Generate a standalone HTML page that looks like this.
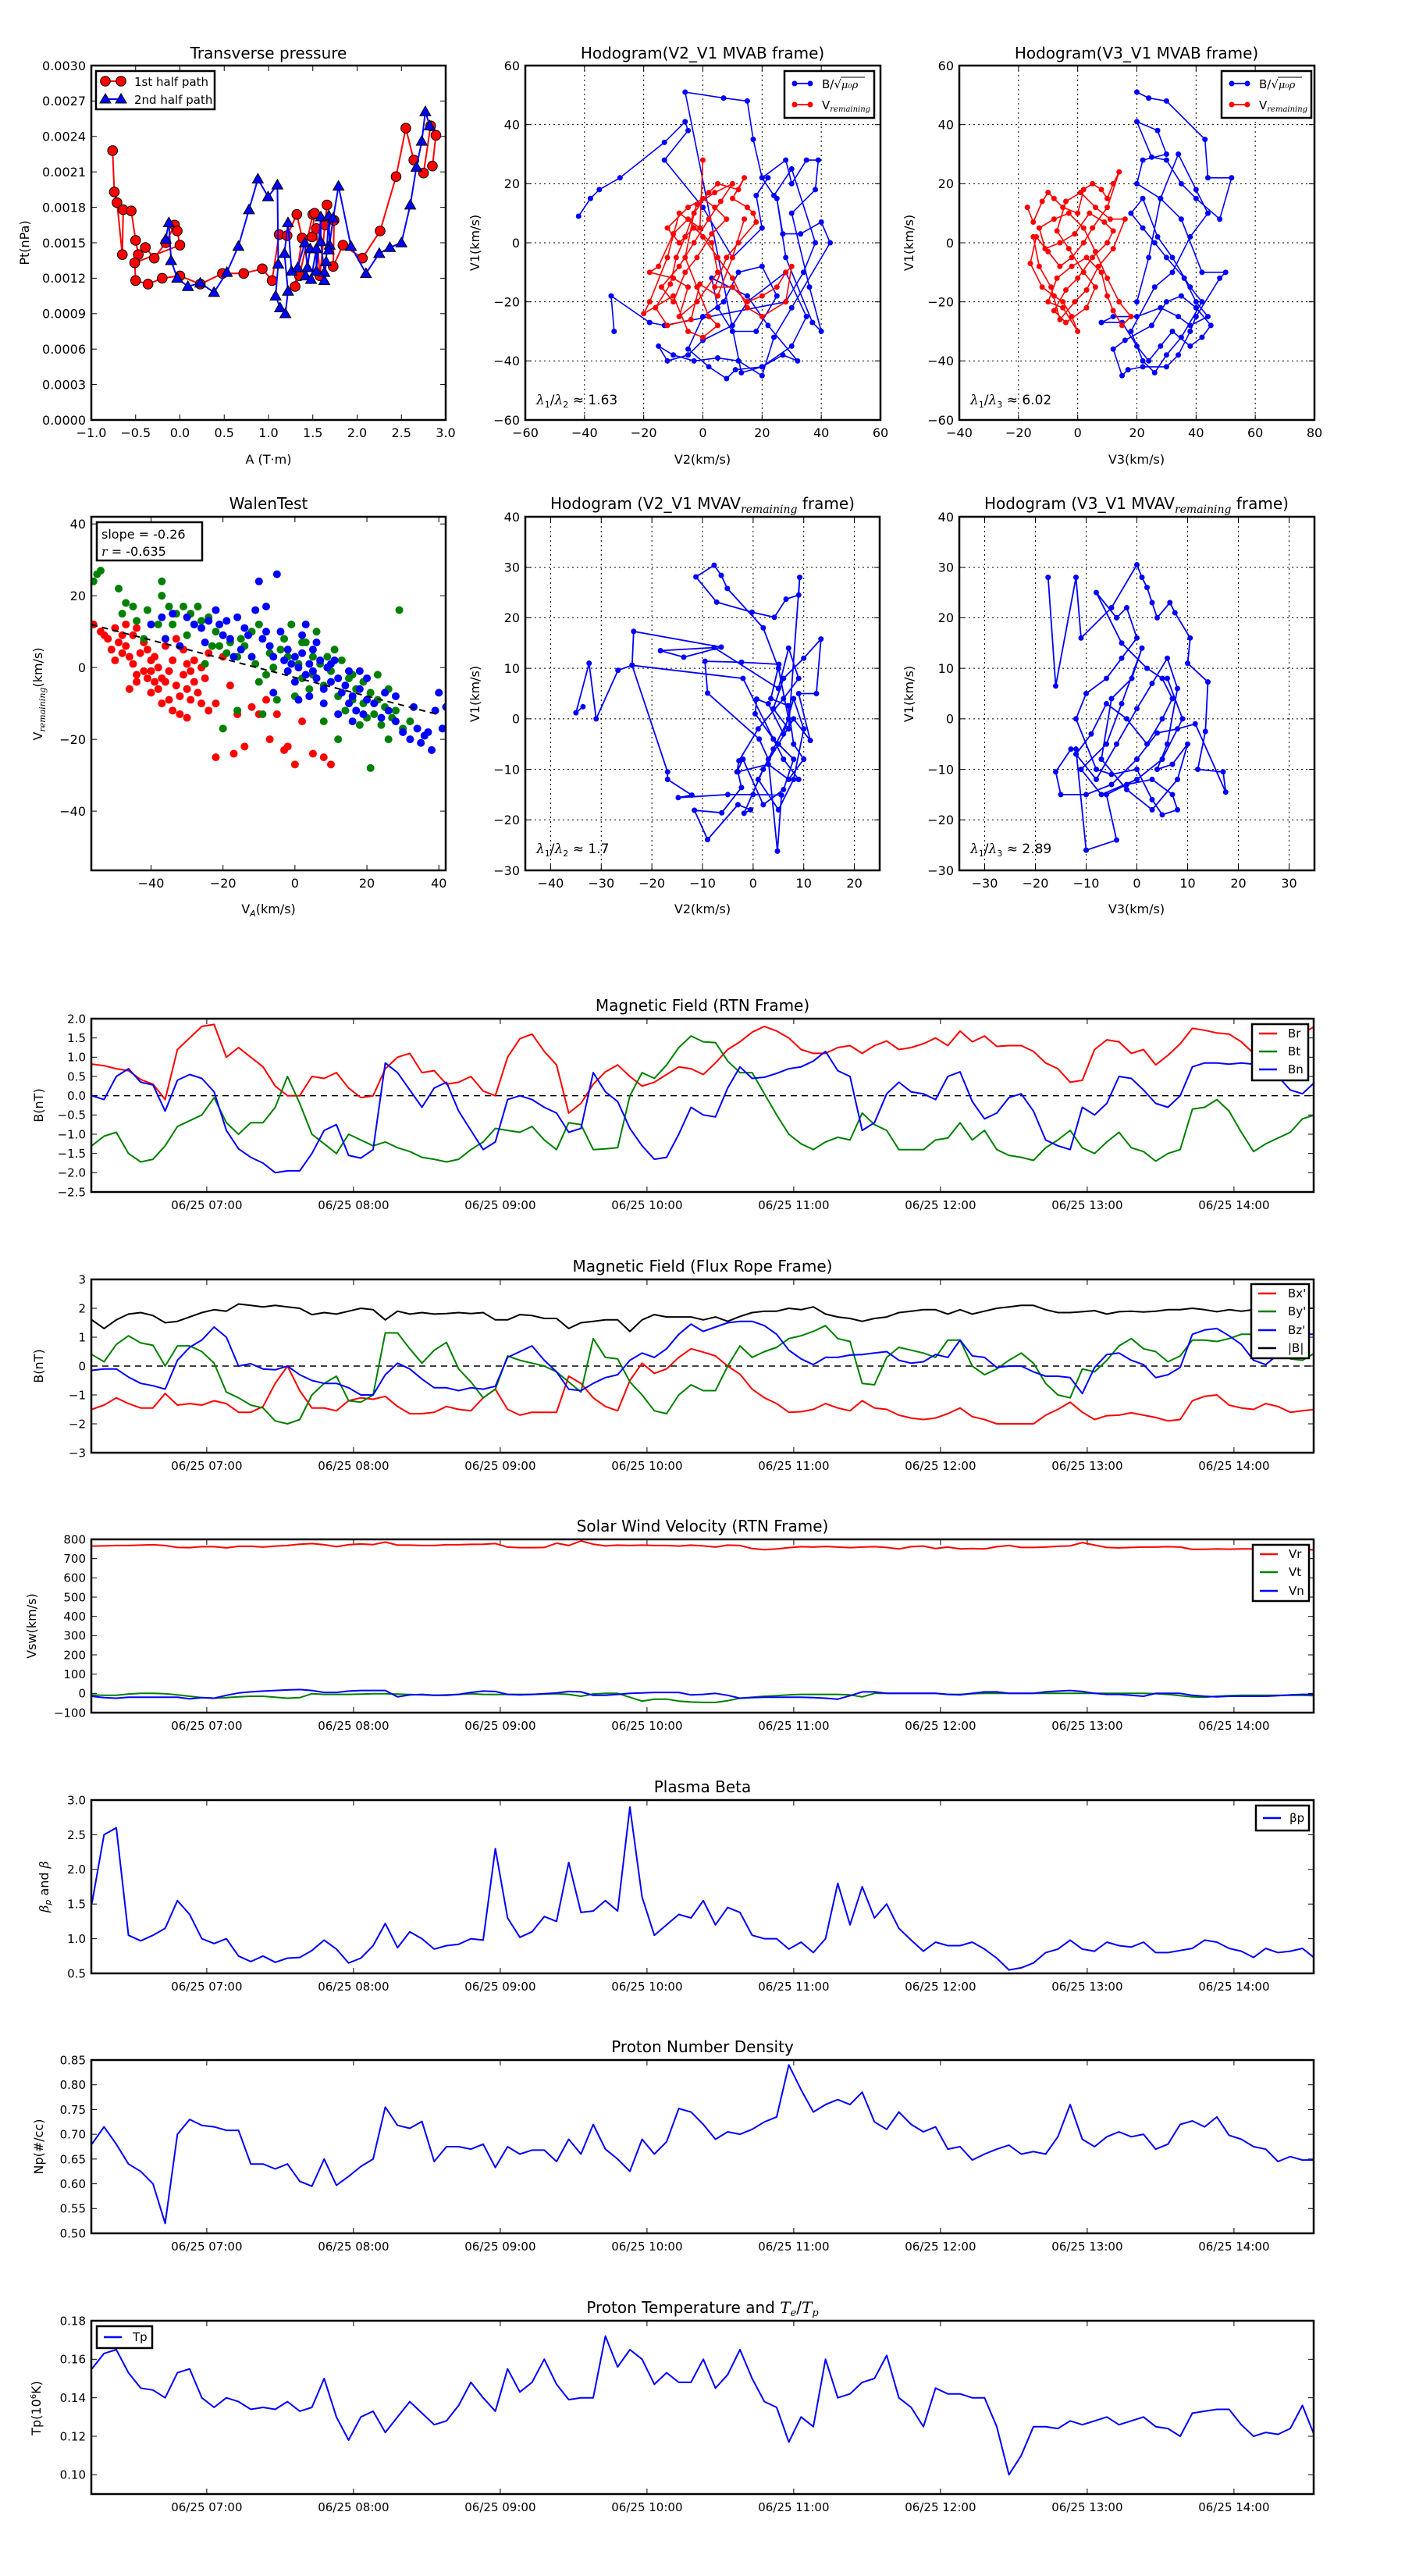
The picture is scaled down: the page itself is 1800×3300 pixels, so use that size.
<!DOCTYPE html>
<html><head><meta charset="utf-8">
<style>
html,body{margin:0;padding:0;background:#fff;}
svg{display:block;font-family:"DejaVu Sans","Liberation Sans",sans-serif;}
</style></head>
<body>
<svg id="fig" xmlns="http://www.w3.org/2000/svg" width="1800" height="3300" viewBox="0 0 1800 3300">
<rect width="1800" height="3300" fill="#fff"/>
<g font-size="20" text-anchor="middle" fill="#000">
<text x="344" y="75">Transverse pressure</text>
<text x="900" y="75">Hodogram(V2_V1 MVAB frame)</text>
<text x="1456" y="75">Hodogram(V3_V1 MVAB frame)</text>
<text x="344" y="652">WalenTest</text>
<text x="900" y="652">Hodogram (V2_V1 MVAV<tspan font-family="DejaVu Serif,serif" font-style="italic" font-size="14" dy="5">remaining</tspan><tspan dy="-5"> frame)</tspan></text>
<text x="1456" y="652">Hodogram (V3_V1 MVAV<tspan font-family="DejaVu Serif,serif" font-style="italic" font-size="14" dy="5">remaining</tspan><tspan dy="-5"> frame)</tspan></text>
<text x="900" y="1295">Magnetic Field (RTN Frame)</text>
<text x="900" y="1629">Magnetic Field (Flux Rope Frame)</text>
<text x="900" y="1962">Solar Wind Velocity (RTN Frame)</text>
<text x="900" y="2296">Plasma Beta</text>
<text x="900" y="2629">Proton Number Density</text>
<text x="900" y="2963">Proton Temperature and <tspan font-family="DejaVu Serif,serif" font-style="italic">T</tspan><tspan font-family="DejaVu Serif,serif" font-style="italic" font-size="13" dy="4">e</tspan><tspan dy="-4">/</tspan><tspan font-family="DejaVu Serif,serif" font-style="italic">T</tspan><tspan font-family="DejaVu Serif,serif" font-style="italic" font-size="13" dy="4">p</tspan></text>
</g>
<g font-size="16" text-anchor="middle" fill="#000">
<text x="344" y="594">A (T·m)</text>
<text x="900" y="594">V2(km/s)</text>
<text x="1456" y="594">V3(km/s)</text>
<text x="344" y="1170">V<tspan font-size="11" dy="4" font-style="italic">A</tspan><tspan dy="-4">(km/s)</tspan></text>
<text x="900" y="1170">V2(km/s)</text>
<text x="1456" y="1170">V3(km/s)</text>
<text transform="translate(37,311) rotate(-90)">Pt(nPa)</text>
<text transform="translate(614,311) rotate(-90)">V1(km/s)</text>
<text transform="translate(1170,311) rotate(-90)">V1(km/s)</text>
<text transform="translate(54,889) rotate(-90)">V<tspan font-size="11" dy="4" font-style="italic" font-family="DejaVu Serif,serif">remaining</tspan><tspan dy="-4">(km/s)</tspan></text>
<text transform="translate(614,889) rotate(-90)">V1(km/s)</text>
<text transform="translate(1170,889) rotate(-90)">V1(km/s)</text>
<text transform="translate(55,1416) rotate(-90)">B(nT)</text>
<text transform="translate(55,1750) rotate(-90)">B(nT)</text>
<text transform="translate(46,2083) rotate(-90)">Vsw(km/s)</text>
<text transform="translate(62,2417) rotate(-90)"><tspan font-family="DejaVu Serif,serif" font-style="italic">β</tspan><tspan font-size="11" dy="3" font-style="italic">p</tspan><tspan dy="-3"> and </tspan><tspan font-family="DejaVu Serif,serif" font-style="italic">β</tspan></text>
<text transform="translate(55,2750) rotate(-90)">Np(#/cc)</text>
<text transform="translate(52,3085) rotate(-90)">Tp(10<tspan font-size="10" dy="-6">6</tspan><tspan dy="6">K)</tspan></text>
</g>
</svg>
<script>
// ---------- data: transverse pressure ----------
const ptFirstHalf=[[-0.76,0.00228],[-0.74,0.00193],[-0.71,0.00184],[-0.65,0.00140],[-0.64,0.00178],[-0.55,0.00177],[-0.50,0.00152],[-0.47,0.00140],[-0.39,0.00146],[-0.29,0.00137],[-0.16,0.00150],[-0.06,0.00165],[-0.03,0.00160],[0.0,0.00148],[-0.51,0.00133],[-0.50,0.00118],[-0.36,0.00115],[-0.20,0.00120],[0.0,0.00122],[0.23,0.00115],[0.48,0.00124],[0.72,0.00124],[0.93,0.00128],[1.04,0.00118],[1.12,0.00157],[1.21,0.00156],[1.32,0.00174],[1.38,0.00154],[1.30,0.00113],[1.35,0.00122],[1.50,0.00174],[1.52,0.00175],[1.49,0.00155],[1.54,0.00162],[1.58,0.00122],[1.66,0.00182],[1.64,0.00165],[1.74,0.00169],[1.73,0.00130],[1.84,0.00148],[2.06,0.00137],[2.26,0.00160],[2.44,0.00206],[2.55,0.00247],[2.64,0.00220],[2.75,0.00209],[2.83,0.00249],[2.89,0.00241],[2.85,0.00215]];
const ptSecondHalf=[[-0.16,0.00153],[-0.125,0.00167],[-0.10,0.00135],[-0.03,0.00120],[0.09,0.00113],[0.23,0.00116],[0.385,0.00108],[0.53,0.00125],[0.66,0.00147],[0.78,0.00178],[0.88,0.00204],[0.995,0.00189],[1.10,0.00199],[1.11,0.00132],[1.08,0.00105],[1.13,0.00095],[1.19,0.00090],[1.22,0.00109],[1.18,0.00141],[1.22,0.00167],[1.26,0.00126],[1.33,0.00129],[1.41,0.00150],[1.44,0.00129],[1.47,0.00145],[1.42,0.00122],[1.48,0.00119],[1.54,0.00145],[1.54,0.00126],[1.59,0.00172],[1.59,0.00151],[1.63,0.00125],[1.63,0.00118],[1.65,0.00134],[1.68,0.00173],[1.69,0.00148],[1.68,0.00144],[1.73,0.00171],[1.79,0.00198],[1.93,0.00147],[2.10,0.00124],[2.25,0.00141],[2.37,0.00146],[2.50,0.00150],[2.60,0.00182],[2.67,0.00214],[2.73,0.00236],[2.77,0.00261],[2.82,0.00249]];
const ptXTicks=[-1,-0.5,0,0.5,1,1.5,2,2.5,3];
const ptXLabels=['−1.0','−0.5','0.0','0.5','1.0','1.5','2.0','2.5','3.0'];
const ptYTicks=[0,0.0003,0.0006,0.0009,0.0012,0.0015,0.0018,0.0021,0.0024,0.0027,0.0030];
const ptYLabels=['0.0000','0.0003','0.0006','0.0009','0.0012','0.0015','0.0018','0.0021','0.0024','0.0027','0.0030'];
// ---------- data: MVAB hodograms ----------
const h1Blue=[[-42,9],[-38,15],[-35,18],[-28,22],[-13,34],[-6,41],[-5,38],[-13,28],[0,12],[10,-5],[20,5],[18,16],[22,22],[20,22],[28,28],[30,20],[35,28],[39,28],[38,18],[30,10],[36,-15],[40,-30],[37,-27],[28,-5],[25,15],[27,3],[33,3],[40,7],[43,0],[30,-22],[24,-32],[20,-45],[12,-40],[5,-39],[-3,-40],[-10,-38],[-15,-35],[-12,-40],[-5,-38],[0,-33],[10,-28],[15,-20],[28,-10],[35,-25],[30,-35],[20,-42],[11,-43],[8,-46],[2,-42],[-5,-36],[0,-25],[7,-20],[12,-10],[20,-8],[25,-18],[18,-30],[10,-30],[5,-22],[3,-12],[15,-18],[22,-28],[32,-40],[27,-38],[20,-42],[13,-44],[-6,51],[7,49],[15,48],[17,35],[20,22],[24,16],[30,25],[38,0],[34,-10],[28,-20],[-13,-28],[-18,-27],[-31,-18],[-30,-30]];
const h1Red=[[0,28],[-1,5],[-8,10],[-12,-5],[-18,-20],[-20,-24],[-10,-18],[-5,-30],[0,-32],[5,-28],[2,-25],[-2,-15],[-6,-5],[-3,10],[2,17],[5,20],[12,18],[14,22],[10,15],[15,12],[17,10],[18,7],[12,0],[8,-5],[4,-15],[10,-15],[15,-20],[20,-18],[25,-15],[28,-10],[30,-8],[28,-20],[20,-25],[15,-22],[10,-12],[5,-5],[0,2],[-5,8],[-10,3],[-15,-8],[-18,-10],[-10,-12],[-5,-15],[-8,-25],[-2,-20],[5,-10],[3,0],[-3,5],[-8,0],[-12,5],[-5,12],[0,15],[4,12],[8,8],[3,3],[-2,-5],[-6,-10],[-10,-20],[-14,-15],[-8,-8],[-3,0],[2,8],[6,14],[10,20],[4,17],[-2,13],[-6,2],[-9,-5],[-11,-14],[-16,-22],[-12,-28],[-4,-26],[-1,-14],[5,-18],[10,-5],[14,8]];
const h2Blue=[[20,51],[24,49],[30,48],[43,35],[44,22],[52,22],[48,8],[40,15],[35,20],[30,28],[25,29],[20,41],[27,38],[30,30],[22,28],[20,20],[28,15],[35,8],[42,-10],[50,-10],[48,-12],[40,-25],[38,-30],[34,-38],[30,-42],[22,-42],[17,-43],[15,-45],[12,-36],[16,-33],[25,-28],[30,-20],[35,-18],[40,-22],[45,-28],[42,-32],[38,-35],[32,-30],[28,-35],[24,-40],[20,-35],[15,-27],[8,-27],[12,-25],[20,-25],[28,-22],[34,-25],[38,-28],[44,-25],[40,-20],[36,-12],[30,-5],[26,0],[22,5],[18,10],[22,15],[27,2],[32,-5],[38,-15],[42,-20],[35,-32],[30,-38],[26,-44],[22,-40],[18,-30],[26,-15],[32,-10],[38,2],[44,10],[40,18],[34,30],[28,15],[24,-5],[20,-20]];
const h2Red=[[-17,12],[-15,7],[-12,14],[-10,17],[-8,15],[-5,12],[0,10],[2,18],[5,20],[8,18],[10,15],[12,20],[14,24],[10,12],[5,5],[2,0],[-2,-5],[-6,-8],[-10,-3],[-14,2],[-16,-7],[-12,-15],[-8,-18],[-5,-20],[-2,-25],[0,-30],[-5,-22],[-10,-20],[-7,-12],[-2,-8],[3,-5],[8,-10],[10,-18],[12,-23],[15,-28],[18,-25],[14,-20],[10,-12],[6,-3],[2,5],[-3,10],[-8,8],[-13,5],[-11,-2],[-6,0],[-1,3],[4,10],[9,7],[12,4],[10,0],[5,-5],[0,-12],[-4,-16],[-8,-23],[-4,-27],[3,-22],[6,-15],[2,-10],[-3,-2],[-7,4],[-4,14],[1,17],[6,12],[11,8],[16,8],[12,-2],[7,-8],[3,-16],[-1,-20],[-6,-26],[-9,-15],[-13,-8],[-15,2]];
// ---------- data: Walen test ----------
const walenRed=[[-56,12],[-54,10],[-52,8],[-50,11],[-48,9],[-47,6],[-46,3],[-45,1],[-44,-2],[-43,4],[-42,7],[-41,5],[-40,2],[-40,-1],[-39,3],[-38,0],[-37,-3],[-36,-4],[-35,-1],[-34,2],[-33,-5],[-32,-8],[-31,-2],[-30,1],[-30,-6],[-29,-9],[-28,-4],[-27,-7],[-26,-10],[-25,-3],[-24,-12],[-22,-10],[-20,3],[-18,-5],[-16,-13],[-14,-22],[-12,-11],[-10,-13],[-8,-9],[-7,-20],[-5,-13],[-3,-23],[-2,-22],[0,-27],[2,-15],[5,-24],[8,-25],[10,-27],[-30,-14],[-35,-9],[-38,-6],[-41,-3],[-45,9],[-47,12],[-49,7],[-51,5],[-53,9],[-44,11],[-42,-1],[-39,-4],[-36,6],[-33,8],[-31,5],[-29,-1],[-28,2],[-26,0],[-24,4],[-44,-4],[-46,-6],[-40,-7],[-37,-10],[-34,-12],[-32,-13],[-22,-25],[-17,-24],[-50,2],[-48,4]];
const walenGreen=[[-56,24],[-55,26],[-54,27],[-49,22],[-47,18],[-45,17],[-41,16],[-37,24],[-37,20],[-35,17],[-33,15],[-31,17],[-29,15],[-27,17],[-26,13],[-24,14],[-22,10],[-21,6],[-19,4],[-18,7],[-16,3],[-14,6],[-12,10],[-10,12],[-10,-4],[-8,-2],[-6,0],[-5,-9],[-4,5],[-3,8],[-2,3],[0,-8],[1,1],[2,-3],[3,7],[4,-6],[5,-2],[6,10],[7,1],[8,-5],[9,3],[10,-1],[11,5],[12,-8],[13,2],[14,-12],[15,-3],[16,-9],[17,-6],[18,-16],[19,-10],[20,-14],[21,-7],[22,-13],[23,-9],[24,-16],[25,-11],[26,-20],[27,-14],[28,-12],[29,16],[30,-17],[32,-15],[21,-28],[12,-20],[8,-15],[-30,9],[-38,12],[-44,13],[-42,8],[-48,15],[-34,12],[-23,6],[-15,8],[-11,1],[-7,4],[-1,12],[-9,-13],[-20,-17],[-16,-12],[16,-2],[19,-4],[23,-2],[26,-6],[5,3],[2,7],[-25,1]];
const walenBlue=[[-40,12],[-36,8],[-34,15],[-30,14],[-28,12],[-26,11],[-24,13],[-22,16],[-20,9],[-19,13],[-18,8],[-17,3],[-16,14],[-15,5],[-14,11],[-12,3],[-11,16],[-10,24],[-9,8],[-8,17],[-7,6],[-6,3],[-5,26],[-4,10],[-3,2],[-2,5],[-1,1],[0,3],[1,0],[2,4],[3,-2],[4,1],[5,-1],[5,5],[6,-3],[7,2],[8,-6],[9,0],[10,-4],[11,2],[12,-3],[13,-7],[14,-5],[15,-10],[16,-8],[17,-12],[18,-6],[19,-13],[20,-9],[22,-10],[24,-14],[26,-12],[28,-15],[30,-18],[32,-20],[34,-17],[35,-21],[36,-19],[37,-18],[38,-23],[39,-12],[40,-7],[41,-17],[42,-11],[25,-7],[20,-3],[15,-1],[10,1],[6,7],[2,9],[-2,-1],[-6,-7],[0,-4],[4,-8],[8,-10],[12,-13],[16,-15],[-13,9],[-21,12],[-25,7],[-32,6],[-37,14],[3,12],[-8,10],[1,-9],[18,-1],[28,-8],[33,-11]];
const walenSlope=-0.26;
const walenIntercept=-2.75;
const walenTicks=[-40,-20,0,20,40];
const walenLabels=['−40','−20','0','20','40'];
// ---------- data: MVAV hodograms ----------
const h3Blue=[[-33.6,2.4],[-35,1.2],[-32.4,11],[-31,0],[-26.7,9.6],[-23.9,10.6],[-16.9,-10.5],[-16.9,-12],[-12.1,-15.1],[-14.8,-15.6],[-5,-15],[0,-15],[5.6,-15.1],[4.8,-26.2],[3,-8],[1.2,-4],[-9,5.1],[-9.5,11.4],[-2.3,11.2],[5.1,10.8],[3.5,4],[6.9,2.6],[8,-5],[10,-8],[7,-12],[3,-9],[-3,-10.5],[-2.3,-13.6],[-6.2,-18.6],[-11.6,-18.1],[-9,-23.9],[-3,-17],[-0.5,-18],[-1.8,-18.7],[2,-10],[5,-5],[8,0],[11.3,-4.3],[9,5],[12.5,5],[13.4,15.8],[10,12],[6,8],[4,2],[7,-2],[9.2,28],[9,24.5],[6.5,23.7],[4.2,20.1],[-0.2,21.1],[-7.2,23.1],[-11.3,28.1],[-7.7,30.4],[-6.3,28.4],[-5.1,25.8],[2,18],[5,10],[7,0],[4,-6],[1,-12],[5,-18],[8,-12],[10,-2],[8,4],[6,-3],[3,3],[0.7,3.9],[0.4,1],[4,-4],[8,-8],[6,-14],[2,-17],[-2,-8],[-3.2,-10.5],[-2.8,-8.3],[1,-2],[6,4],[9,8],[7,14],[5,6],[-7.7,14.1],[-18.3,13.5],[-13.7,12.2],[-6.3,14.2],[-23.6,17.3],[-23.9,10.6],[-2,8],[6,-8],[9,-12]];
const h4Blue=[[-17.5,28],[-16,6.5],[-12,28],[-11,16],[-5,22],[0,30.5],[1,28],[2,26],[3,23],[4,20],[6.5,23],[7.5,21],[10.5,16],[10,11],[14,7.3],[13.5,-2.5],[12,-10],[17,-10.5],[17.5,-14.5],[11.5,-1],[8,-2],[4,-2.8],[0,-8],[-5,-13],[-10,-15],[-15,-15],[-16,-10.5],[-13,-6],[-12,-6],[-10,-26],[-4,-24],[-6,-15],[-2,-13],[3,-12],[7,-15],[8,-18],[5,-19],[3,-16],[0,-10],[-5,-11],[-8,-10],[-12,0],[-10,5],[-6,8],[-3,12],[0,16],[-2,22],[-4,20],[-8,25],[-3,15],[2,10],[5,8],[7,4],[5,0],[2,-5],[-2,0],[-6,3],[-9,-3],[-12,-7],[-8,-12],[-4,-5],[0,2],[3,7],[6,12],[8,6],[6,-5],[4,-10],[7,-9],[10,-5],[8,-12],[3,-18],[-2,-14],[-7,-8],[-5,4],[-1,8],[1,14],[-3,3],[-6,-5],[-11,-10],[-7,-15],[0,-12],[5,-8],[9,0],[6,8]];
// ---------- data: time series (5-minute samples starting 06:13) ----------
const tStartHour=6+13/60;
const tStepHour=5/60;
const timeTicks=[7,8,9,10,11,12,13,14];
const timeLabels=['06/25 07:00','06/25 08:00','06/25 09:00','06/25 10:00','06/25 11:00','06/25 12:00','06/25 13:00','06/25 14:00'];
const Br=[0.82,0.78,0.7,0.65,0.42,0.3,-0.1,1.2,1.5,1.8,1.85,1.0,1.25,1.0,0.75,0.25,0.0,0.0,0.5,0.45,0.6,0.2,-0.05,0.0,0.7,1.0,1.1,0.6,0.65,0.3,0.35,0.5,0.12,0.0,1.0,1.48,1.6,1.15,0.8,-0.45,-0.2,0.3,0.62,0.8,0.5,0.25,0.35,0.55,0.75,0.7,0.55,0.85,1.2,1.4,1.65,1.8,1.68,1.5,1.2,1.1,1.1,1.25,1.3,1.1,1.3,1.42,1.2,1.25,1.35,1.5,1.3,1.68,1.4,1.55,1.28,1.3,1.3,1.15,0.85,0.7,0.35,0.4,1.2,1.45,1.4,1.1,1.2,0.8,1.05,1.35,1.75,1.7,1.63,1.6,1.4,1.1,1.15,1.45,1.55,1.62,1.8];
const Bt=[-1.3,-1.05,-0.95,-1.5,-1.72,-1.65,-1.3,-0.8,-0.65,-0.5,-0.05,-0.7,-1.0,-0.7,-0.7,-0.3,0.5,-0.2,-1.0,-1.25,-1.5,-1.0,-1.15,-1.3,-1.2,-1.35,-1.45,-1.6,-1.65,-1.72,-1.65,-1.4,-1.2,-0.85,-0.9,-0.95,-0.8,-1.15,-1.4,-0.7,-0.75,-1.4,-1.38,-1.35,0.0,0.6,0.45,0.8,1.25,1.55,1.4,1.38,0.9,0.6,0.6,0.05,-0.5,-1.0,-1.25,-1.4,-1.2,-1.08,-1.15,-0.45,-0.75,-0.9,-1.4,-1.4,-1.4,-1.15,-1.1,-0.7,-1.15,-0.9,-1.4,-1.55,-1.6,-1.68,-1.35,-1.15,-0.9,-1.35,-1.5,-1.2,-0.95,-1.35,-1.45,-1.7,-1.5,-1.4,-0.35,-0.3,-0.1,-0.4,-0.95,-1.45,-1.25,-1.1,-0.95,-0.6,-0.5];
const Bn=[0,-0.1,0.5,0.7,0.35,0.28,-0.4,0.4,0.55,0.45,0.1,-0.9,-1.38,-1.6,-1.75,-2.0,-1.95,-1.95,-1.5,-0.9,-0.75,-1.55,-1.62,-1.4,0.85,0.6,0.15,-0.3,0.2,0.35,-0.4,-0.9,-1.4,-1.2,-0.1,0.0,-0.1,-0.3,-0.45,-0.95,-0.85,0.6,0.1,-0.15,-0.85,-1.3,-1.65,-1.6,-1.0,-0.3,-0.5,-0.55,0.2,0.75,0.45,0.48,0.58,0.7,0.75,0.9,1.15,0.65,0.5,-0.9,-0.7,0.05,0.35,0.1,0.05,-0.1,0.5,0.62,-0.15,-0.6,-0.45,-0.05,0.05,-0.4,-1.15,-1.3,-1.4,-0.3,-0.5,-0.2,0.5,0.45,0.15,-0.2,-0.3,0.0,0.75,0.85,0.85,0.82,0.85,0.82,0.75,0.5,0.15,0.05,0.35];
const Bx=[-1.5,-1.35,-1.1,-1.3,-1.45,-1.45,-0.95,-1.35,-1.3,-1.35,-1.2,-1.3,-1.6,-1.6,-1.4,-0.6,0.0,-0.85,-1.45,-1.45,-1.55,-1.2,-1.1,-1.15,-1.05,-1.4,-1.65,-1.65,-1.6,-1.4,-1.5,-1.55,-1.1,-0.8,-1.5,-1.7,-1.6,-1.6,-1.6,-0.35,-0.6,-1.1,-1.4,-1.55,-0.5,0.1,-0.25,-0.1,0.3,0.6,0.48,0.35,0.0,-0.28,-0.8,-1.1,-1.3,-1.6,-1.58,-1.5,-1.3,-1.45,-1.55,-1.2,-1.45,-1.5,-1.7,-1.8,-1.85,-1.8,-1.65,-1.45,-1.75,-1.85,-2.0,-2.0,-2.0,-2.0,-1.7,-1.5,-1.25,-1.6,-1.85,-1.72,-1.7,-1.62,-1.7,-1.78,-1.9,-1.85,-1.2,-1.05,-1.0,-1.35,-1.45,-1.5,-1.3,-1.4,-1.6,-1.55,-1.5];
const By=[0.4,0.15,0.75,1.05,0.8,0.72,0.0,0.7,0.7,0.5,0.1,-0.9,-1.1,-1.35,-1.45,-1.9,-2.0,-1.85,-1.0,-0.6,-0.35,-1.2,-1.25,-1.0,1.15,1.15,0.6,0.1,0.55,0.82,-0.1,-0.55,-1.1,-0.8,0.35,0.2,0.1,0.0,-0.2,-0.55,-0.9,0.95,0.3,0.25,-0.55,-1.0,-1.55,-1.65,-1.0,-0.65,-0.85,-0.85,0.0,0.7,0.3,0.5,0.65,0.95,1.05,1.2,1.4,0.95,0.85,-0.6,-0.65,0.3,0.65,0.55,0.45,0.3,0.9,0.9,0.0,-0.3,-0.1,0.2,0.45,0.1,-0.6,-1.0,-1.1,-0.1,-0.2,0.2,0.7,0.95,0.6,0.5,0.15,0.35,0.9,0.9,0.85,0.95,1.1,1.1,1.15,0.5,0.25,0.2,0.45];
const Bz=[-0.15,-0.1,-0.1,-0.38,-0.6,-0.68,-0.8,0.2,0.65,0.9,1.35,1.0,0.0,0.08,-0.1,-0.13,0.0,-0.3,-0.5,-0.6,-0.6,-0.75,-1.0,-1.0,-0.3,0.1,-0.1,-0.45,-0.75,-0.75,-0.85,-0.75,-0.8,-0.7,0.3,0.5,0.7,0.2,-0.2,-0.8,-0.85,-0.6,-0.4,-0.3,0.2,0.45,0.3,0.6,1.1,1.45,1.2,1.35,1.5,1.55,1.55,1.4,1.1,0.55,0.25,0.05,0.3,0.3,0.38,0.4,0.45,0.5,0.2,0.1,0.15,0.4,0.3,0.9,0.35,0.3,-0.05,0.0,0.0,-0.2,-0.35,-0.35,-0.4,-0.95,-0.05,0.4,0.45,0.2,0.05,-0.4,-0.3,-0.05,1.1,1.25,1.3,1.05,0.75,0.2,0.05,0.4,0.8,1.1,1.1];
const Bmag=[1.6,1.3,1.6,1.8,1.85,1.75,1.5,1.55,1.7,1.85,1.95,1.9,2.15,2.1,2.05,2.1,2.05,2.0,1.78,1.85,1.8,1.9,2.0,1.95,1.6,1.9,1.8,1.85,1.8,1.82,1.85,1.82,1.85,1.6,1.6,1.78,1.75,1.65,1.65,1.3,1.5,1.55,1.6,1.6,1.2,1.6,1.78,1.7,1.7,1.7,1.6,1.7,1.55,1.72,1.85,1.9,1.9,2.0,1.95,2.05,1.8,1.7,1.65,1.55,1.65,1.7,1.85,1.9,1.95,1.95,1.8,1.95,1.8,1.9,2.0,2.05,2.1,2.1,1.95,1.85,1.85,1.88,1.92,1.8,1.88,1.9,1.87,1.9,1.95,1.95,2.0,1.95,1.88,1.95,1.9,1.95,2.0,2.0,2.0,2.0,2.0];
const Vr=[765,766,768,768,770,772,768,758,757,762,762,756,764,764,760,765,768,775,778,772,762,772,776,773,786,770,770,768,768,772,772,774,775,778,760,757,757,758,780,768,792,775,766,770,768,770,768,768,765,770,766,760,770,768,752,746,750,757,762,760,763,760,757,760,762,758,750,762,765,752,760,750,752,750,762,768,758,758,760,764,766,783,770,758,756,758,760,760,762,760,748,748,750,749,750,750,752,752,750,748,745];
const Vt=[-8,-10,-10,-3,0,0,-2,-8,-15,-22,-25,-22,-18,-15,-15,-20,-25,-22,-2,-5,-5,-5,-4,-2,-2,-4,-6,-8,-10,-8,-5,-2,-5,-6,-5,-5,-5,-4,-2,-5,-15,-3,0,0,-20,-40,-30,-30,-40,-45,-47,-47,-38,-25,-20,-15,-12,-8,-5,-5,-5,-5,-8,-18,0,0,0,0,0,0,-5,-5,-2,0,0,0,0,0,0,0,0,0,0,0,0,0,0,-2,-5,-12,-18,-20,-15,-12,-10,-10,-10,-10,-10,-10,-12];
const Vn=[-15,-22,-25,-20,-20,-20,-20,-20,-28,-22,-25,-10,2,8,12,15,18,20,15,5,5,12,15,15,15,-18,-8,-5,-10,-10,-5,5,12,10,-5,-8,-5,-2,2,10,8,-10,-10,-5,0,2,5,5,5,-8,-5,0,-10,-25,-22,-20,-20,-20,-20,-22,-25,-30,-12,8,8,0,0,0,0,0,-5,-8,0,8,8,0,0,0,8,12,15,10,0,-5,-5,-10,-15,0,0,0,-10,-15,-18,-15,-15,-15,-15,-12,-8,-5,-5];
const betaP=[1.5,2.5,2.6,1.05,0.97,1.05,1.15,1.55,1.35,1.0,0.93,1.0,0.75,0.67,0.75,0.66,0.72,0.73,0.83,0.98,0.85,0.65,0.72,0.9,1.22,0.87,1.1,1.0,0.85,0.9,0.92,1.0,0.98,2.3,1.3,1.02,1.1,1.32,1.25,2.1,1.38,1.4,1.55,1.4,2.9,1.6,1.05,1.2,1.35,1.3,1.55,1.2,1.45,1.38,1.05,1.0,1.0,0.85,0.95,0.8,1.0,1.8,1.2,1.75,1.3,1.5,1.15,0.98,0.82,0.95,0.9,0.9,0.95,0.85,0.72,0.55,0.58,0.65,0.8,0.85,0.98,0.85,0.82,0.95,0.9,0.88,0.95,0.8,0.8,0.83,0.86,0.98,0.95,0.86,0.82,0.73,0.86,0.8,0.82,0.86,0.72];
const Np=[0.68,0.715,0.68,0.64,0.625,0.6,0.52,0.7,0.73,0.718,0.715,0.708,0.708,0.64,0.64,0.63,0.64,0.605,0.595,0.65,0.597,0.615,0.635,0.65,0.755,0.718,0.712,0.726,0.645,0.675,0.675,0.67,0.68,0.633,0.675,0.66,0.668,0.668,0.645,0.69,0.66,0.72,0.67,0.65,0.625,0.69,0.66,0.685,0.752,0.745,0.72,0.69,0.705,0.7,0.71,0.725,0.735,0.84,0.79,0.745,0.76,0.77,0.76,0.785,0.725,0.71,0.745,0.72,0.705,0.715,0.67,0.675,0.648,0.66,0.67,0.678,0.66,0.665,0.66,0.695,0.76,0.69,0.675,0.695,0.705,0.695,0.7,0.67,0.68,0.72,0.727,0.715,0.735,0.698,0.69,0.675,0.67,0.645,0.655,0.648,0.648];
const Tp=[0.155,0.163,0.165,0.153,0.145,0.144,0.14,0.153,0.155,0.14,0.135,0.14,0.138,0.134,0.135,0.134,0.138,0.133,0.135,0.15,0.13,0.118,0.13,0.133,0.122,0.13,0.138,0.132,0.126,0.128,0.136,0.148,0.14,0.133,0.155,0.143,0.148,0.16,0.147,0.139,0.14,0.14,0.172,0.156,0.165,0.16,0.147,0.153,0.148,0.148,0.16,0.145,0.152,0.165,0.15,0.138,0.135,0.117,0.13,0.125,0.16,0.14,0.142,0.148,0.15,0.162,0.14,0.135,0.125,0.145,0.142,0.142,0.14,0.14,0.125,0.1,0.11,0.125,0.125,0.124,0.128,0.126,0.128,0.13,0.126,0.128,0.13,0.125,0.124,0.12,0.132,0.133,0.134,0.134,0.126,0.12,0.122,0.121,0.124,0.136,0.12];

// ---------- drawing helpers ----------
const NS='http://www.w3.org/2000/svg';
const svg=document.getElementById('fig');
const defs=document.createElementNS(NS,'defs');
svg.appendChild(defs);
function mk(tag,attrs,parent){const e=document.createElementNS(NS,tag);for(const k in attrs)e.setAttribute(k,attrs[k]);(parent||svg).appendChild(e);return e;}
function lin(d0,d1,r0,r1){return v=>r0+(v-d0)/(d1-d0)*(r1-r0);}
function clipFor(key,box){const c=mk('clipPath',{id:'clip-'+key},defs);mk('rect',{x:box.x,y:box.y,width:box.w,height:box.h},c);return 'url(#clip-'+key+')';}

function drawAxes(key,box,xs,ys,xT,xL,yT,yL,fs,grid,xLabelGap){
  const g=mk('g',{'font-size':fs,fill:'#000'});
  
  
  const bot=box.y+box.h,right=box.x+box.w;
  xT.forEach((v,i)=>{
    const p=xs(v);
    if(grid&&p>box.x+2&&p<right-2){
      const gl=mk('line',{x1:p,x2:p,y1:box.y,y2:bot,stroke:'#000','stroke-width':1,'stroke-dasharray':'2,4'},g);
      
      
    }
    const t1=mk('line',{x1:p,x2:p,y1:bot,y2:bot-7,stroke:'#000','stroke-width':1},g);
    
    
    const t2=mk('line',{x1:p,x2:p,y1:box.y,y2:box.y+7,stroke:'#000','stroke-width':1},g);
    
    
    const tx=mk('text',{x:p,y:bot+xLabelGap,'text-anchor':'middle'},g);
    tx.textContent=xL[i];
    
    
  });
  yT.forEach((v,i)=>{
    const p=ys(v);
    if(grid&&p>box.y+2&&p<bot-2){
      const gl=mk('line',{x1:box.x,x2:right,y1:p,y2:p,stroke:'#000','stroke-width':1,'stroke-dasharray':'2,4'},g);
      
      
    }
    const t1=mk('line',{x1:box.x,x2:box.x+7,y1:p,y2:p,stroke:'#000','stroke-width':1},g);
    
    
    const t2=mk('line',{x1:right,x2:right-7,y1:p,y2:p,stroke:'#000','stroke-width':1},g);
    
    
    const tx=mk('text',{x:box.x-7,y:p+fs*0.36,'text-anchor':'end'},g);
    tx.textContent=yL[i];
    
    
  });
}
function drawFrame(key,box){
  const r=mk('rect',{x:box.x,y:box.y,width:box.w,height:box.h,fill:'none',stroke:'#000','stroke-width':2.5});
  
  
}
function drawPath(key,pts,xs,ys,color,width,clip,marker,mr){
  const g=mk('g',{'clip-path':clip});
  
  
  const s=pts.map(p=>xs(p[0]).toFixed(1)+','+ys(p[1]).toFixed(1)).join(' ');
  const pl=mk('polyline',{points:s,fill:'none',stroke:color,'stroke-width':width,'stroke-linejoin':'round'},g);
  
  
  if(marker==='dot'||marker==='circle'){
    pts.forEach(p=>{
      const c=mk('circle',{cx:xs(p[0]),cy:ys(p[1]),r:mr,fill:color,stroke:marker==='circle'?'#000':'none','stroke-width':1},g);
      
      
    });
  } else if(marker==='tri'){
    pts.forEach(p=>{
      const cx=xs(p[0]),cy=ys(p[1]);
      const t=mk('polygon',{points:`${cx},${cy-mr} ${cx-mr},${cy+mr*0.75} ${cx+mr},${cy+mr*0.75}`,fill:color,stroke:'#000','stroke-width':1},g);
      
      
    });
  }
}
function drawScatter(key,pts,xs,ys,color,r,clip){
  const g=mk('g',{'clip-path':clip});
  
  
  pts.forEach(p=>{
    const c=mk('circle',{cx:xs(p[0]),cy:ys(p[1]),r:r,fill:color},g);
    
    
  });
}
function legendBox(key,x,y,w,h,items,lx0,lx1,tx){
  const g=mk('g',{'font-size':15,fill:'#000'});
  
  
  const r=mk('rect',{x:x,y:y,width:w,height:h,fill:'#fff',stroke:'#000','stroke-width':2.5},g);
  
  
  items.forEach(it=>{
    const l=mk('line',{x1:lx0,x2:lx1,y1:it.y,y2:it.y,stroke:it.color,'stroke-width':2.5},g);
    
    
    const t=mk('text',{x:tx,y:it.y+5},g);
    t.textContent=it.label;
    
    
  });
}

// ---------- panel 1: transverse pressure ----------
(function(){
  const box={x:117,y:84,w:454,h:454};
  const xs=lin(-1,3,box.x,box.x+box.w), ys=lin(0,0.003,box.y+box.h,box.y);
  const clip=clipFor('pt',box);
  drawAxes('pressure',box,xs,ys,ptXTicks,ptXLabels,ptYTicks,ptYLabels,16,false,22);
  drawPath('pressure-first-half',ptFirstHalf,xs,ys,'#ff0000',2,clip,'circle',6.3);
  drawPath('pressure-second-half',ptSecondHalf,xs,ys,'#0000ff',2,clip,'tri',7);
  drawFrame('pressure',box);
})();
// ---------- hodograms MVAB ----------
(function(){
  const hT=[-60,-40,-20,0,20,40,60], hL=['−60','−40','−20','0','20','40','60'];
  const box1={x:673,y:84,w:455,h:454};
  const xs1=lin(-60,60,box1.x,box1.x+box1.w), ys1=lin(-60,60,box1.y+box1.h,box1.y);
  const c1=clipFor('h1',box1);
  drawAxes('hodogram-v2-mvab',box1,xs1,ys1,hT,hL,hT,hL,16,true,22);
  drawPath('hodogram-v2-mvab-alfven',h1Blue,xs1,ys1,'#0000ff',1.6,c1,'dot',3.5);
  drawPath('hodogram-v2-mvab-vremaining',h1Red,xs1,ys1,'#ff0000',1.6,c1,'dot',3.5);
  drawFrame('hodogram-v2-mvab',box1);
  const x3T=[-40,-20,0,20,40,60,80], x3L=['−40','−20','0','20','40','60','80'];
  const box2={x:1229,y:84,w:455,h:454};
  const xs2=lin(-40,80,box2.x,box2.x+box2.w), ys2=lin(-60,60,box2.y+box2.h,box2.y);
  const c2=clipFor('h2',box2);
  drawAxes('hodogram-v3-mvab',box2,xs2,ys2,x3T,x3L,hT,hL,16,true,22);
  drawPath('hodogram-v3-mvab-alfven',h2Blue,xs2,ys2,'#0000ff',1.6,c2,'dot',3.5);
  drawPath('hodogram-v3-mvab-vremaining',h2Red,xs2,ys2,'#ff0000',1.6,c2,'dot',3.5);
  drawFrame('hodogram-v3-mvab',box2);
})();
// ---------- Walen test ----------
(function(){
  const box={x:117,y:662,w:454,h:453};
  const xs=lin(-56.6,41.9,box.x,box.x+box.w), ys=lin(-56.5,42,box.y+box.h,box.y);
  const clip=clipFor('walen',box);
  drawAxes('walen',box,xs,ys,walenTicks,walenLabels,walenTicks,walenLabels,16,false,22);
  drawScatter('walen-red',walenRed,xs,ys,'#ff0000',5,clip);
  drawScatter('walen-green',walenGreen,xs,ys,'#008000',5,clip);
  drawScatter('walen-blue',walenBlue,xs,ys,'#0000ff',5,clip);
  const x0=-56.6,x1=40;
  const fl=mk('line',{x1:xs(x0),y1:ys(walenSlope*x0+walenIntercept),x2:xs(x1),y2:ys(walenSlope*x1+walenIntercept),stroke:'#000','stroke-width':2,'stroke-dasharray':'8,6','clip-path':clip});
  
  
  drawFrame('walen',box);
})();
// ---------- hodograms MVAV ----------
(function(){
  const yT=[-30,-20,-10,0,10,20,30,40], yL=['−30','−20','−10','0','10','20','30','40'];
  const box1={x:673,y:662,w:454,h:453};
  const x1T=[-40,-30,-20,-10,0,10,20], x1L=['−40','−30','−20','−10','0','10','20'];
  const xs1=lin(-45,25,box1.x,box1.x+box1.w), ys1=lin(-30,40,box1.y+box1.h,box1.y);
  const c1=clipFor('h3',box1);
  drawAxes('hodogram-v2-mvav',box1,xs1,ys1,x1T,x1L,yT,yL,16,true,22);
  drawPath('hodogram-v2-mvav-alfven',h3Blue,xs1,ys1,'#0000ff',1.8,c1,'dot',3.5);
  drawFrame('hodogram-v2-mvav',box1);
  const box2={x:1229,y:662,w:455,h:453};
  const x2T=[-30,-20,-10,0,10,20,30], x2L=['−30','−20','−10','0','10','20','30'];
  const xs2=lin(-35,35,box2.x,box2.x+box2.w), ys2=lin(-30,40,box2.y+box2.h,box2.y);
  const c2=clipFor('h4',box2);
  drawAxes('hodogram-v3-mvav',box2,xs2,ys2,x2T,x2L,yT,yL,16,true,22);
  drawPath('hodogram-v3-mvav-alfven',h4Blue,xs2,ys2,'#0000ff',1.8,c2,'dot',3.5);
  drawFrame('hodogram-v3-mvav',box2);
})();
// ---------- time series panels ----------
function timePanel(key,top,y0,y1,yT,yL,series,zero){
  const box={x:117,y:top,w:1566,h:222};
  const xs=lin(6+12.8/60,6+12.8/60+1566/188,box.x,box.x+box.w), ys=lin(y0,y1,box.y+box.h,box.y);
  const clip=clipFor(key,box);
  drawAxes(key,box,xs,ys,timeTicks,timeLabels,yT,yL,15,false,22);
  if(zero){
    const z=mk('line',{x1:box.x,x2:box.x+box.w,y1:ys(0),y2:ys(0),stroke:'#000','stroke-width':1.5,'stroke-dasharray':'8,6'});
    
    
  }
  series.forEach(s=>{
    const pts=s.vals.map((v,i)=>[tStartHour+i*tStepHour,v]);
    drawPath(key+'-'+s.name,pts,xs,ys,s.color,2,clip,null,0);
  });
  drawFrame(key,box);
}
timePanel('mag-rtn',1305,-2.5,2.0,[-2.5,-2,-1.5,-1,-0.5,0,0.5,1,1.5,2],['−2.5','−2.0','−1.5','−1.0','−0.5','0.0','0.5','1.0','1.5','2.0'],
  [{name:'br',vals:Br,color:'#ff0000'},{name:'bt',vals:Bt,color:'#008000'},{name:'bn',vals:Bn,color:'#0000ff'}],true);
timePanel('mag-fluxrope',1639,-3,3,[-3,-2,-1,0,1,2,3],['−3','−2','−1','0','1','2','3'],
  [{name:'bx',vals:Bx,color:'#ff0000'},{name:'by',vals:By,color:'#008000'},{name:'bz',vals:Bz,color:'#0000ff'},{name:'bmag',vals:Bmag,color:'#000000'}],true);
timePanel('velocity',1972,-100,800,[-100,0,100,200,300,400,500,600,700,800],['−100','0','100','200','300','400','500','600','700','800'],
  [{name:'vr',vals:Vr,color:'#ff0000'},{name:'vt',vals:Vt,color:'#008000'},{name:'vn',vals:Vn,color:'#0000ff'}],false);
timePanel('beta',2306,0.5,3.0,[0.5,1,1.5,2,2.5,3],['0.5','1.0','1.5','2.0','2.5','3.0'],
  [{name:'beta-p',vals:betaP,color:'#0000ff'}],false);
timePanel('density',2639,0.5,0.85,[0.5,0.55,0.6,0.65,0.7,0.75,0.8,0.85],['0.50','0.55','0.60','0.65','0.70','0.75','0.80','0.85'],
  [{name:'np',vals:Np,color:'#0000ff'}],false);
timePanel('temperature',2973,0.09,0.18,[0.10,0.12,0.14,0.16,0.18],['0.10','0.12','0.14','0.16','0.18'],
  [{name:'tp',vals:Tp,color:'#0000ff'}],false);

legendBox('mag-rtn-legend',1604,1312,72,72,[{y:1324,color:'#ff0000',label:'Br'},{y:1347,color:'#008000',label:'Bt'},{y:1370,color:'#0000ff',label:'Bn'}],1613,1636,1650);
legendBox('mag-fluxrope-legend',1603,1645,74,95,[{y:1657,color:'#ff0000',label:"Bx'"},{y:1680,color:'#008000',label:"By'"},{y:1704,color:'#0000ff',label:"Bz'"},{y:1727,color:'#000000',label:'|B|'}],1612,1635,1650);
legendBox('velocity-legend',1605,1979,72,72,[{y:1991,color:'#ff0000',label:'Vr'},{y:2014,color:'#008000',label:'Vt'},{y:2038,color:'#0000ff',label:'Vn'}],1614,1637,1651);
legendBox('beta-legend',1609,2313,68,32,[{y:2329,color:'#0000ff',label:'βp'}],1618,1641,1652);
legendBox('temperature-legend',124,2980,71,28,[{y:2994,color:'#0000ff',label:'Tp'}],133,156,170);
</script>
<svg style="position:absolute;left:0;top:0" width="1800" height="1200">
<g font-family="DejaVu Sans, sans-serif" fill="#000">
<g>
<rect x="123" y="91" width="152" height="49" fill="#fff" stroke="#000" stroke-width="2.5"/>
<line x1="135" x2="155" y1="104" y2="104" stroke="#f00" stroke-width="2"/>
<circle cx="135" cy="104" r="6.3" fill="#f00" stroke="#000"/>
<circle cx="155" cy="104" r="6.3" fill="#f00" stroke="#000"/>
<text x="172" y="110" font-size="15">1st half path</text>
<line x1="135" x2="155" y1="127" y2="127" stroke="#00f" stroke-width="2"/>
<polygon points="135,120 128,132 142,132" fill="#00f" stroke="#000"/>
<polygon points="155,120 148,132 162,132" fill="#00f" stroke="#000"/>
<text x="172" y="133" font-size="15">2nd half path</text>
</g>
<g>
<rect x="1005" y="91" width="115" height="60" fill="#fff" stroke="#000" stroke-width="2.5"/>
<line x1="1018" x2="1038" y1="107" y2="107" stroke="#00f" stroke-width="2"/>
<circle cx="1018" cy="107" r="3.5" fill="#00f"/>
<circle cx="1038" cy="107" r="3.5" fill="#00f"/>
<text x="1053" y="113" font-size="15">B/√<tspan font-family="DejaVu Serif,serif" font-style="italic" font-size="13">μ₀ρ</tspan></text>
<line x1="1077" x2="1108" y1="99" y2="99" stroke="#000" stroke-width="1"/>
<line x1="1018" x2="1038" y1="134" y2="134" stroke="#f00" stroke-width="2"/>
<circle cx="1018" cy="134" r="3.5" fill="#f00"/>
<circle cx="1038" cy="134" r="3.5" fill="#f00"/>
<text x="1053" y="140" font-size="15">V<tspan font-family="DejaVu Serif,serif" font-style="italic" font-size="10" dy="3">remaining</tspan></text>
</g>
<g>
<rect x="1565" y="91" width="115" height="60" fill="#fff" stroke="#000" stroke-width="2.5"/>
<line x1="1578" x2="1598" y1="107" y2="107" stroke="#00f" stroke-width="2"/>
<circle cx="1578" cy="107" r="3.5" fill="#00f"/>
<circle cx="1598" cy="107" r="3.5" fill="#00f"/>
<text x="1613" y="113" font-size="15">B/√<tspan font-family="DejaVu Serif,serif" font-style="italic" font-size="13">μ₀ρ</tspan></text>
<line x1="1637" x2="1668" y1="99" y2="99" stroke="#000" stroke-width="1"/>
<line x1="1578" x2="1598" y1="134" y2="134" stroke="#f00" stroke-width="2"/>
<circle cx="1578" cy="134" r="3.5" fill="#f00"/>
<circle cx="1598" cy="134" r="3.5" fill="#f00"/>
<text x="1613" y="140" font-size="15">V<tspan font-family="DejaVu Serif,serif" font-style="italic" font-size="10" dy="3">remaining</tspan></text>
</g>
<text x="687" y="518" font-size="17"><tspan font-family="DejaVu Serif,serif" font-style="italic">λ</tspan><tspan font-size="11" dy="4">1</tspan><tspan dy="-4">/</tspan><tspan font-family="DejaVu Serif,serif" font-style="italic">λ</tspan><tspan font-size="11" dy="4">2</tspan><tspan dy="-4"> ≈ 1.63</tspan></text>
<text x="1243" y="518" font-size="17"><tspan font-family="DejaVu Serif,serif" font-style="italic">λ</tspan><tspan font-size="11" dy="4">1</tspan><tspan dy="-4">/</tspan><tspan font-family="DejaVu Serif,serif" font-style="italic">λ</tspan><tspan font-size="11" dy="4">3</tspan><tspan dy="-4"> ≈ 6.02</tspan></text>
<text x="687" y="1093" font-size="17"><tspan font-family="DejaVu Serif,serif" font-style="italic">λ</tspan><tspan font-size="11" dy="4">1</tspan><tspan dy="-4">/</tspan><tspan font-family="DejaVu Serif,serif" font-style="italic">λ</tspan><tspan font-size="11" dy="4">2</tspan><tspan dy="-4"> ≈ 1.7</tspan></text>
<text x="1243" y="1093" font-size="17"><tspan font-family="DejaVu Serif,serif" font-style="italic">λ</tspan><tspan font-size="11" dy="4">1</tspan><tspan dy="-4">/</tspan><tspan font-family="DejaVu Serif,serif" font-style="italic">λ</tspan><tspan font-size="11" dy="4">3</tspan><tspan dy="-4"> ≈ 2.89</tspan></text>
<g>
<rect x="124" y="669" width="135" height="49" fill="#fff" stroke="#000" stroke-width="2.5"/>
<text x="130" y="690" font-size="16">slope = -0.26</text>
<text x="130" y="712" font-size="16"><tspan font-family="DejaVu Serif,serif" font-style="italic">r</tspan> = -0.635</text>
</g>
</g>
</svg>
</body></html>
